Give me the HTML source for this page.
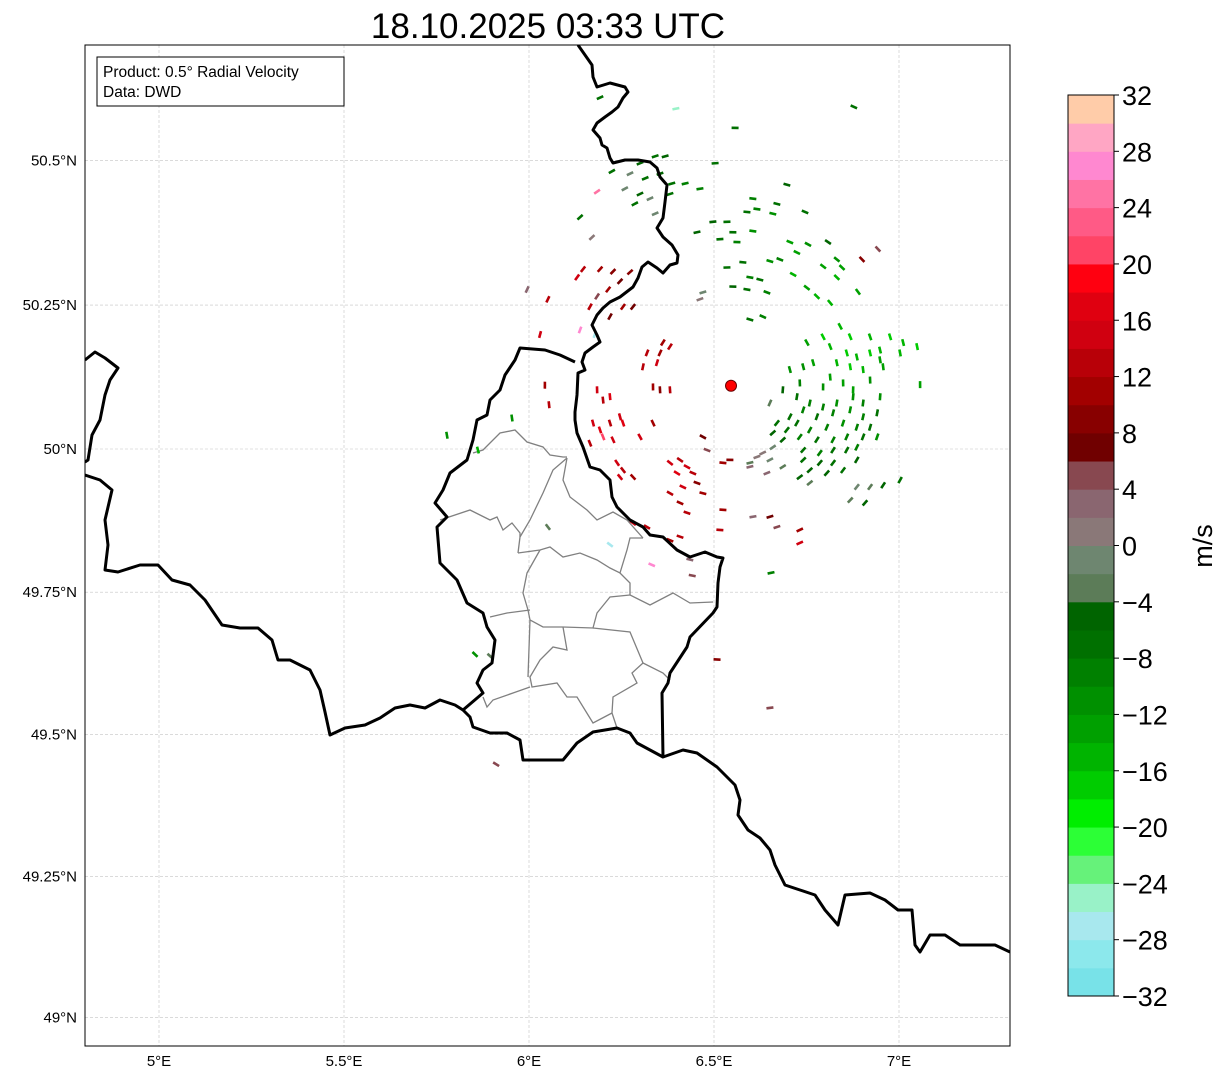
<!DOCTYPE html>
<html><head><meta charset="utf-8">
<style>
html,body{margin:0;padding:0;background:#fff;}
body{width:1225px;height:1081px;overflow:hidden;font-family:"Liberation Sans",sans-serif;}
svg text{font-family:"Liberation Sans","DejaVu Sans",sans-serif;}
</style></head>
<body>
<svg id="chart" width="1225" height="1081" viewBox="0 0 1225 1081" xmlns="http://www.w3.org/2000/svg">
<defs><clipPath id="mapclip"><rect x="85" y="45" width="925" height="1001"/></clipPath></defs>
<text x="548" y="38" font-size="35" text-anchor="middle" fill="#000">18.10.2025 03:33 UTC</text>
<g id="grid"></g>
<g clip-path="url(#mapclip)">
<g fill="none" stroke="#808080" stroke-width="1.3">
<polyline points="473,453 483,450 500,433 515,430 527,442 543,447 550,455 563,457 567,457"/>
<polyline points="567,458 563,480 570,497 587,510 597,520 613,512 627,520 643,538"/>
<polyline points="567,458 553,470 543,493 530,520 520,537 518,553"/>
<polyline points="440,520 470,510 490,520 497,517 503,530 512,523 520,533 520,537"/>
<polyline points="518,553 540,550 550,547 563,557 580,553 597,560 610,568 620,573 627,550 630,538 643,538"/>
<polyline points="540,550 527,573 523,593 528,610 530,620 543,627 563,627"/>
<polyline points="620,573 630,583 630,595 650,605 673,593 690,603 713,602"/>
<polyline points="630,595 610,597 597,613 593,628 563,627"/>
<polyline points="593,628 630,632 643,663 663,673 670,680"/>
<polyline points="643,663 632,673 637,683 613,697 612,713 617,728"/>
<polyline points="563,627 567,650 553,647 540,660 530,677 532,687 557,683 567,697 577,697 593,723 612,713"/>
<polyline points="530,610 507,613 490,617"/>
<polyline points="530,620 528,677"/>
<polyline points="530,687 513,693 493,700 487,707 483,697"/>
</g>
<g id="echoes"></g>
<g fill="none" stroke="#000" stroke-width="3" stroke-linejoin="round">
<polyline points="578,45 585,55 592,65 593,77 597,87 610,83 625,87 628,92 623,98 618,107 612,112 605,117 597,123 593,130 600,138 602,145 607,148 610,158 613,163 625,160 638,160 650,162 657,168 660,177 667,185 665,202 663,218 657,228 663,237 672,245 678,255 677,263 670,265 663,273 657,268 648,262 642,267 638,278 633,287 620,297 610,302 603,308 597,315 592,325 597,335 600,342 593,347 585,353 582,362 585,370 578,373 577,395 575,412 575,420 577,433 583,447 590,467 600,470 610,480 612,497 617,507 630,520 643,527 650,535 663,537 677,550 690,557 705,552 717,557 723,558 720,567 718,583 717,607 713,613 690,637 687,647 670,673 668,683 662,693 663,757 683,750 697,753 717,767 725,775 735,785 740,800 738,815 748,830 760,838 770,850 775,865 785,885 800,890 815,895 825,910 838,925 845,895 870,893 885,900 898,910 912,910 915,945 920,952 930,935 945,935 960,945 975,945 995,945 1010,952"/>
<polyline points="575,362 560,355 545,350 520,348 515,360 505,375 500,390 490,400 487,415 477,420 473,440 467,460 450,473 443,490 435,503 447,517 437,527 440,563 457,580 467,603 483,613 487,627 495,640 492,663 483,670 477,683 483,693 463,710 470,717 473,727 490,733 507,733 520,740 523,760 543,760 563,760 577,743 593,732 617,728 630,733 637,743 663,757"/>
<polyline points="85,475 100,480 112,490 105,520 108,545 105,570 118,572 140,565 158,565 172,580 190,585 205,600 222,625 240,628 258,628 272,640 278,660 290,660 310,670 320,690 325,712 330,735 345,728 365,725 380,718 395,708 410,705 425,708 440,700 455,705 463,710"/>
<polyline points="85,360 95,352 105,358 118,368 110,380 105,395 100,420 92,435 88,460 85,462"/>
</g>
<circle id="radarSite" r="5.5" fill="#ff0000" stroke="#600" stroke-width="1"/>
</g>
<rect x="85" y="45" width="925" height="1001" fill="none" stroke="#000" stroke-width="1"/>
<g>
<rect x="97" y="57" width="247" height="49" fill="#fff" stroke="#000" stroke-width="1"/>
<text x="103" y="77" font-size="15.5" fill="#000">Product: 0.5° Radial Velocity</text>
<text x="103" y="97" font-size="15.5" fill="#000">Data: DWD</text>
</g>
<g id="ticks"></g>
<g id="cbar"></g>
<text transform="translate(1212,546) rotate(-90)" font-size="27" text-anchor="middle" fill="#000">m/s</text>
</svg>
<script>
const lonTicks = [5, 5.5, 6, 6.5, 7];
const lonTickLabels = ['5°E', '5.5°E', '6°E', '6.5°E', '7°E'];
const latTicks = [49, 49.25, 49.5, 49.75, 50, 50.25, 50.5];
const latTickLabels = ['49°N', '49.25°N', '49.5°N', '49.75°N', '50°N', '50.25°N', '50.5°N'];
const cbarTicks = [-32, -28, -24, -20, -16, -12, -8, -4, 0, 4, 8, 12, 16, 20, 24, 28, 32];
const cbarColors = ['#78e2e8','#8ce8ec','#a8e8ee','#99f2c8','#66f27a','#2cff36','#00ee00','#00cc00','#00b400','#00a000','#009000','#008000','#007000','#006400','#5c7c58','#6e8670','#8a7878','#8a6670','#884850','#700000','#880000','#a20000','#b80008','#d00010','#e00010','#ff0010','#ff4466','#ff5a86','#ff73a4','#ff88d0','#ffa6c4','#ffcca9'];
const radarLon = 6.546;
const radarLat = 50.110;
const echoLon = [6.300,6.341,6.368,6.273,6.314,6.354,6.386,6.422,6.300,6.327,6.286,6.381,6.462,6.503,6.341,6.259,6.224,6.192,6.557,6.878,6.397,6.697,6.138,6.170,
6.605,6.670,6.616,6.589,6.659,6.746,6.535,6.497,6.454,6.551,6.605,6.516,6.562,6.705,6.754,6.724,6.651,6.678,6.795,6.832,6.846,6.714,6.832,6.578,6.535,6.597,6.624,6.643,6.589,6.551,6.778,6.814,6.889,6.751,6.597,6.632,6.470,6.462,6.900,6.943,6.808,
6.841,6.795,6.868,6.922,6.976,7.011,7.049,6.859,6.886,6.922,6.949,7.003,6.832,6.868,6.903,6.949,6.751,6.814,6.768,6.741,6.705,6.814,6.849,6.795,6.876,6.922,6.957,6.732,7.057,
6.759,6.795,6.832,6.876,6.903,6.949,6.741,6.778,6.822,6.868,6.903,6.941,6.724,6.759,6.805,6.849,6.886,6.922,6.697,6.732,6.778,6.822,6.859,6.903,6.941,6.686,6.741,6.786,6.822,6.859,6.886,6.741,6.786,6.822,6.849,6.805,6.759,6.732,6.759,6.886,6.659,6.670,6.705,6.651,6.686,6.724,6.659,6.632,6.597,6.651,6.686,6.643,6.886,6.868,6.908,6.922,6.957,7.003,6.616,6.597,
6.319,6.354,6.346,6.308,6.362,6.381,6.184,6.200,6.219,6.173,6.192,6.219,6.246,6.254,6.200,6.227,6.165,6.238,6.254,6.281,6.246,6.335,6.354,6.381,6.335,6.300,6.381,6.408,6.427,6.400,6.443,6.416,6.381,6.408,6.427,6.470,6.454,6.470,6.481,6.524,6.543,6.524,6.516,6.732,6.732,6.670,6.651,6.605,6.408,6.381,6.281,6.319,6.435,
6.146,6.192,6.130,6.227,6.246,6.214,6.184,6.254,6.165,6.219,6.281,6.273,6.051,6.030,6.054,6.043,6.184,6.138,6.178,6.332,6.219,
6.051,5.854,5.895,5.862,5.778,5.911,6.651,6.508,5.954,5.995,6.441,6.654];
const echoLat = [50.495,50.507,50.507,50.477,50.469,50.477,50.460,50.460,50.442,50.434,50.425,50.442,50.451,50.495,50.408,50.451,50.481,50.608,50.556,50.592,50.589,50.458,50.402,50.367,
50.434,50.425,50.416,50.411,50.408,50.411,50.394,50.394,50.376,50.376,50.378,50.364,50.359,50.359,50.355,50.341,50.326,50.329,50.317,50.329,50.315,50.303,50.298,50.324,50.315,50.298,50.294,50.272,50.277,50.282,50.265,50.254,50.273,50.280,50.225,50.230,50.272,50.260,50.329,50.347,50.359,
50.213,50.195,50.195,50.195,50.195,50.185,50.178,50.167,50.160,50.167,50.172,50.167,50.150,50.143,50.138,50.155,50.185,50.178,50.150,50.143,50.138,50.125,50.115,50.108,50.103,50.120,50.143,50.115,50.112,
50.080,50.073,50.080,50.091,50.080,50.091,50.068,50.056,50.063,50.068,50.056,50.063,50.045,50.033,50.038,50.045,50.038,50.038,50.033,50.021,50.016,50.016,50.021,50.021,50.021,50.016,49.998,49.993,49.998,49.998,50.003,49.981,49.976,49.976,49.963,49.958,49.963,49.951,49.941,49.981,50.028,50.045,50.056,50.080,50.103,50.091,50.003,49.993,49.976,49.981,49.969,49.958,49.934,49.911,49.906,49.934,49.937,49.946,49.986,49.969,
50.167,50.167,50.150,50.143,50.185,50.178,50.103,50.085,50.091,50.045,50.033,50.045,50.056,50.045,50.021,50.016,50.010,49.976,49.963,49.951,49.951,50.108,50.103,50.103,50.045,50.021,49.976,49.981,49.969,49.958,49.958,49.934,49.923,49.906,49.889,49.923,49.941,50.021,49.998,49.976,49.981,49.894,49.859,49.859,49.836,49.864,49.882,49.882,49.847,49.841,49.871,49.864,49.807,
50.312,50.312,50.298,50.308,50.291,50.277,50.265,50.247,50.247,50.230,50.247,50.307,50.260,50.199,50.077,50.111,50.446,50.207,50.199,49.798,49.833,
49.864,49.641,49.638,49.998,50.024,49.448,49.547,49.632,50.054,50.277,49.779,49.784];
const echoVel = [-6,-8,-6,-2,-8,-6,-8,-10,-6,-2,-8,-8,-10,-8,-2,-2,-8,-8,-8,-8,-26,-6,-8,0,
-10,-8,-10,-8,-12,-8,-8,-6,-6,-8,-12,-8,-10,-14,-12,-14,-12,-10,-14,-12,-14,-16,-16,-8,-8,-10,-8,-10,-8,-6,-16,-16,-14,-14,-8,-10,-2,0,8,4,-6,
-16,-18,-18,-16,-18,-16,-18,-18,-16,-18,-16,-16,-16,-18,-16,-14,-14,-16,-14,-12,-12,-14,-14,-12,-14,-12,-14,-10,-14,
-10,-10,-12,-12,-10,-12,-10,-8,-10,-12,-10,-8,-8,-10,-10,-12,-10,-8,-8,-10,-8,-10,-10,-8,-12,-6,-8,-10,-8,-8,-10,-8,-6,-8,-8,-6,-6,-6,-4,-6,-6,-8,-8,-4,-6,-8,-2,0,-4,-2,-4,2,-2,-4,-6,-4,-6,-8,0,2,
12,10,14,12,10,12,14,12,16,14,16,12,14,16,20,14,12,14,12,10,14,10,8,12,10,14,14,12,14,16,12,14,12,10,12,10,8,6,4,10,8,10,12,10,14,4,6,2,12,10,14,12,2,
12,10,14,8,6,10,4,10,12,6,6,8,12,14,12,10,24,26,-28,26,-28,
-4,-12,-4,-16,-12,4,4,8,-12,2,4,-10];

const K = 21150;
function merc(lat){ const r = lat*Math.PI/180; return Math.log(Math.tan(Math.PI/4 + r/2)); }
function xOf(lon){ return 159 + (lon - 5) * 370; }
function yOf(lat){ return 449 - (merc(lat) - merc(50)) * K; }
function colorOf(v){ let i = Math.floor((v + 32) / 2); if (i < 0) i = 0; if (i > 31) i = 31; return cbarColors[i]; }
const NS = 'http://www.w3.org/2000/svg';
function mk(tag, attrs, parent){ const e = document.createElementNS(NS, tag); for (const k in attrs) e.setAttribute(k, attrs[k]); parent.appendChild(e); return e; }

const grid = document.getElementById('grid');
const ticks = document.getElementById('ticks');
lonTicks.forEach((lon, i) => {
  const x = xOf(lon);
  const l = mk('line', {x1: x, x2: x, y1: 45, y2: 1046, stroke: '#c4c4c4', 'stroke-width': 0.6, 'stroke-dasharray': '3,2'}, grid);
  
  
  const t = mk('text', {x: x, y: 1066, 'font-size': 15, 'text-anchor': 'middle', fill: '#000'}, ticks);
  t.textContent = lonTickLabels[i];
  
  
});
latTicks.forEach((lat, i) => {
  const y = yOf(lat);
  const l = mk('line', {x1: 85, x2: 1010, y1: y, y2: y, stroke: '#c4c4c4', 'stroke-width': 0.6, 'stroke-dasharray': '3,2'}, grid);
  
  
  const t = mk('text', {x: 77, y: y + 5, 'font-size': 15, 'text-anchor': 'end', fill: '#000'}, ticks);
  t.textContent = latTickLabels[i];
  
  
});

const rx = xOf(radarLon), ry = yOf(radarLat);
const site = document.getElementById('radarSite');
site.setAttribute('cx', rx); site.setAttribute('cy', ry);

const eg = document.getElementById('echoes');
for (let i = 0; i < echoLon.length; i++) {
  const x = xOf(echoLon[i]), y = yOf(echoLat[i]);
  const ang = Math.atan2(y - ry, x - rx) * 180 / Math.PI + 90;
  const r = mk('rect', {x: x - 3.5, y: y - 1.3, width: 7, height: 2.6, fill: colorOf(echoVel[i]), transform: 'rotate(' + ang.toFixed(1) + ' ' + x.toFixed(1) + ' ' + y.toFixed(1) + ')'}, eg);
  
  
}

const cb = document.getElementById('cbar');
const cbTop = 95, cbBot = 996, cbX = 1068, cbW = 46;
function cbY(v){ return cbBot - (v + 32) / 64 * (cbBot - cbTop); }
cbarColors.forEach((c, i) => {
  const v0 = -32 + i * 2, v1 = v0 + 2;
  const r = mk('rect', {x: cbX, y: cbY(v1), width: cbW, height: cbY(v0) - cbY(v1) + 0.5, fill: c}, cb);
  
  
});
const fr = mk('rect', {x: cbX, y: cbTop, width: cbW, height: cbBot - cbTop, fill: 'none', stroke: '#000', 'stroke-width': 1}, cb);


cbarTicks.forEach(v => {
  const y = cbY(v);
  const tl = mk('line', {x1: cbX + cbW, x2: cbX + cbW + 5, y1: y, y2: y, stroke: '#000', 'stroke-width': 1}, cb);
  
  
  const t = mk('text', {x: 1122, y: y + 10, 'font-size': 27, fill: '#000'}, cb);
  t.textContent = v < 0 ? '\u2212' + Math.abs(v) : String(v);
  
  
});
</script>
</body></html>
